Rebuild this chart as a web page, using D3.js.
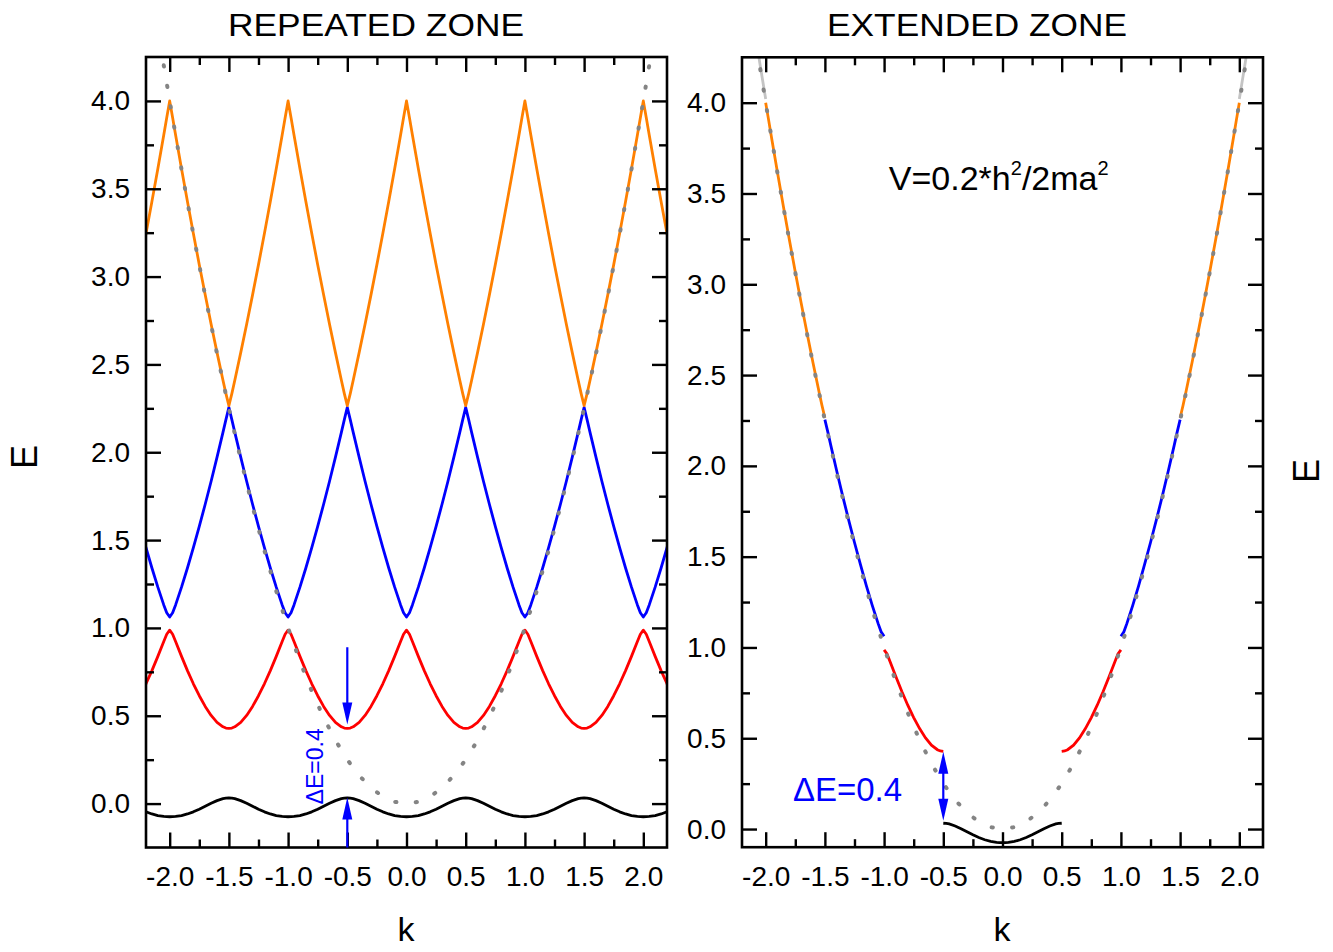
<!DOCTYPE html>
<html><head><meta charset="utf-8">
<script src="https://cdn.jsdelivr.net/npm/d3@7"></script>
<style>body{margin:0;background:#fff} text{font-family:"Liberation Sans",Arial,Helvetica,sans-serif}</style>
</head><body><svg id="c" width="1333" height="952" style="background:#fff"></svg>
<script>
// ---- data ----
// reduced wave vector k (units of 2π/a) for half a Brillouin zone
const kHalf = [0, 0.025, 0.05, 0.1, 0.15, 0.2, 0.25, 0.3, 0.35, 0.4, 0.45, 0.475, 0.5];
// band energies at kHalf (units of h^2/2ma^2)
const band1 = [-0.075, -0.0745, -0.073, -0.068, -0.059, -0.047, -0.032, -0.015, 0.002, 0.017, 0.028, 0.031, 0.032];
const band2 = [0.987, 0.964, 0.923, 0.838, 0.757, 0.682, 0.614, 0.553, 0.502, 0.462, 0.437, 0.430, 0.428];
const band3 = [1.062, 1.086, 1.131, 1.232, 1.341, 1.457, 1.578, 1.704, 1.835, 1.972, 2.113, 2.186, 2.255];
const band4 = [4.000, 3.904, 3.806, 3.614, 3.427, 3.245, 3.068, 2.896, 2.729, 2.567, 2.410, 2.334, 2.265];
// band 5 just beyond |k| = 2 (light grey in extended zone)
const k5 = [2.0, 2.05, 2.1];
const band5 = [4.02, 4.22, 4.43];
// free electron parabola (dotted grey)
const kFree = [-2.1,-2.05,-2.0,-1.9,-1.8,-1.7,-1.6,-1.5,-1.4,-1.3,-1.2,-1.1,-1.0,-0.9,-0.8,-0.7,-0.6,-0.5,-0.4,-0.3,-0.2,-0.1,0,
               0.1,0.2,0.3,0.4,0.5,0.6,0.7,0.8,0.9,1.0,1.1,1.2,1.3,1.4,1.5,1.6,1.7,1.8,1.9,2.0,2.05,2.1];
const eFree = [4.41,4.2025,4.0,3.61,3.24,2.89,2.56,2.25,1.96,1.69,1.44,1.21,1.0,0.81,0.64,0.49,0.36,0.25,0.16,0.09,0.04,0.01,0,
               0.01,0.04,0.09,0.16,0.25,0.36,0.49,0.64,0.81,1.0,1.21,1.44,1.69,1.96,2.25,2.56,2.89,3.24,3.61,4.0,4.2025,4.41];
// axes ticks
const xMajor = [-2.0,-1.5,-1.0,-0.5,0.0,0.5,1.0,1.5,2.0];
const xMinor = [-1.75,-1.25,-0.75,-0.25,0.25,0.75,1.25,1.75];
const yMajor = [0.0,0.5,1.0,1.5,2.0,2.5,3.0,3.5,4.0];
const yMinor = [0.25,0.75,1.25,1.75,2.25,2.75,3.25,3.75];
const bandColors = ["#000000","#ff0000","#0000ff","#ff8000"];
const titles = ["REPEATED ZONE","EXTENDED ZONE"];
const gapLabel = "\u0394E=0.4";
// annotation positions (data units)
const gapArrowK = -0.5;
const leftArrowDown = [0.89, 0.45];
const leftArrowUp = [-0.25, 0.034];
const rightArrow = [0.046, 0.426];

const svg = d3.select("#c");
const fmt = v => v.toFixed(1);
const bands = [band1, band2, band3, band4];

const panels = [
  {x0:146, x1:667, y0:57, y1:847.5, yd:[-0.25,4.25], id:"L"},
  {x0:742, x1:1263, y0:57.3, y1:847.2, yd:[-0.1,4.25], id:"R"}
];
panels.forEach(p => {
  p.x = d3.scaleLinear().domain([-2.2,2.2]).range([p.x0,p.x1]);
  p.y = d3.scaleLinear().domain(p.yd).range([p.y1,p.y0]);
  p.line = d3.line().x(d=>p.x(d[0])).y(d=>p.y(d[1]));
  svg.append("clipPath").attr("id","clip"+p.id).append("rect")
    .attr("x",p.x0).attr("y",p.y0).attr("width",p.x1-p.x0).attr("height",p.y1-p.y0);
  p.g = svg.append("g").attr("clip-path","url(#clip"+p.id+")");
});

function period(band){
  const pts=[];
  for(let i=kHalf.length-1;i>=0;i--) pts.push([-kHalf[i], band[i]]);
  for(let i=1;i<kHalf.length;i++) pts.push([kHalf[i], band[i]]);
  return pts;
}

// ---- left: repeated zone ----
const L = panels[0];
bands.forEach((b,bi) => {
  const per = period(b);
  let pts = [];
  for(let n=-3;n<=3;n++) per.forEach((d,i)=>{ if(!(i===0 && pts.length)) pts.push([d[0]+n,d[1]]); });
  L.g.append("path").attr("d",L.line(pts)).attr("fill","none")
    .attr("stroke",bandColors[bi]).attr("stroke-width",2.8).attr("stroke-linejoin","round");
});
const freeL = kFree.map((k,i)=>[k,eFree[i]]).filter(d=>Math.abs(d[0])<=2.05);
L.g.append("path").attr("d",L.line(freeL)).attr("fill","none").attr("stroke","#848484")
  .attr("stroke-width",4).attr("stroke-linecap","round").attr("stroke-dasharray","1.2 19.5");

// ---- right: extended zone ----
const R = panels[1];
function seg(b, f){ return kHalf.map((k,i)=>[f(k), b[i]]); }
const extSegs = [
  [0, period(band1)],
  [1, seg(band2,k=>1-k)], [1, seg(band2,k=>-(1-k))],
  [2, seg(band3,k=>1+k)], [2, seg(band3,k=>-(1+k))],
  [3, seg(band4,k=>2-k)], [3, seg(band4,k=>-(2-k))]
];
extSegs.forEach(([ci,pts]) => {
  R.g.append("path").attr("d",R.line(pts)).attr("fill","none")
    .attr("stroke",bandColors[ci]).attr("stroke-width",2.8);
});
[1,-1].forEach(s => {
  R.g.append("path").attr("d",R.line(k5.map((k,i)=>[s*k,band5[i]]))).attr("fill","none")
    .attr("stroke","#c4c4c4").attr("stroke-width",2.8);
});
const freeR = kFree.map((k,i)=>[k,eFree[i]]);
R.g.append("path").attr("d",R.line(freeR)).attr("fill","none").attr("stroke","#848484")
  .attr("stroke-width",4).attr("stroke-linecap","round").attr("stroke-dasharray","1.2 19.5");

// ---- axes / frames ----
panels.forEach(p => {
  const H = p.y1-p.y0, W = p.x1-p.x0;
  const mk = (axis, tv, size, labels) => axis.tickValues(tv).tickSize(-size).tickSizeOuter(0)
      .tickFormat(labels?fmt:"");
  const addAxis = (axis, tx, ty, labels, pad) => {
    const g = svg.append("g").attr("transform",`translate(${tx},${ty})`).call(axis.tickPadding(pad||0));
    g.select(".domain").remove();
    g.selectAll(".tick line").attr("stroke","#000").attr("stroke-width",2.4);
    g.selectAll("text").attr("font-size",28).attr("fill","#000").attr("font-family",'"Liberation Sans",Arial,sans-serif');
    return g;
  };
  addAxis(mk(d3.axisBottom(p.x), xMajor, 15, true), 0, p.y1, true, 19);
  addAxis(mk(d3.axisBottom(p.x), xMinor, 8, false), 0, p.y1);
  addAxis(mk(d3.axisTop(p.x), xMajor, 15, false), 0, p.y0);
  addAxis(mk(d3.axisTop(p.x), xMinor, 8, false), 0, p.y0);
  addAxis(mk(d3.axisLeft(p.y), yMajor, 15, true), p.x0, 0, true, 16);
  addAxis(mk(d3.axisLeft(p.y), yMinor, 8, false), p.x0, 0);
  addAxis(mk(d3.axisRight(p.y), yMajor, 15, false), p.x1, 0);
  addAxis(mk(d3.axisRight(p.y), yMinor, 8, false), p.x1, 0);
  svg.append("rect").attr("x",p.x0).attr("y",p.y0).attr("width",W).attr("height",H)
    .attr("fill","none").attr("stroke","#000").attr("stroke-width",2.6);
});

// ---- arrows ----
function arrowHead(p, k, eTip, dir){ // dir: +1 pointing up, -1 pointing down
  const x = p.x(k), y = p.y(eTip);
  const len = 22, hw = 5;
  svg.append("path").attr("d",`M${x},${y}L${x-hw},${y+dir*len}L${x+hw},${y+dir*len}Z`).attr("fill","#0000ff");
}
function shaft(p, k, e0, e1){
  svg.append("line").attr("x1",p.x(k)).attr("x2",p.x(k)).attr("y1",p.y(e0)).attr("y2",p.y(e1))
    .attr("stroke","#0000ff").attr("stroke-width",2.2);
}
shaft(L, gapArrowK, leftArrowDown[0], leftArrowDown[1]+0.05);
arrowHead(L, gapArrowK, leftArrowDown[1], -1);
shaft(L, gapArrowK, leftArrowUp[0], leftArrowUp[1]-0.05);
arrowHead(L, gapArrowK, leftArrowUp[1], 1);
shaft(R, gapArrowK, rightArrow[0]+0.05, rightArrow[1]-0.05);
arrowHead(R, gapArrowK, rightArrow[0], -1);
arrowHead(R, gapArrowK, rightArrow[1], 1);

// ---- texts ----
svg.append("text").attr("transform",`translate(${L.x(-0.707)},${L.y(0.212)}) rotate(-90)`)
  .attr("text-anchor","middle").attr("font-size",23).attr("fill","#0000ff").text(gapLabel);
svg.append("text").attr("x",R.x(-1.77)).attr("y",R.y(0.156)).attr("font-size",33)
  .attr("fill","#0000ff").text(gapLabel);
const vt = svg.append("text").attr("x",R.x(-0.96)).attr("y",R.y(3.52)).attr("font-size",34).attr("fill","#000");
vt.append("tspan").text("V=0.2*h");
vt.append("tspan").attr("font-size",20).attr("dy",-15).text("2");
vt.append("tspan").attr("dy",15).text("/2ma");
vt.append("tspan").attr("font-size",20).attr("dy",-15).text("2");

svg.append("text").attr("x",228).attr("y",36).attr("font-size",32).attr("textLength",296)
  .attr("lengthAdjust","spacingAndGlyphs").text(titles[0]);
svg.append("text").attr("x",827).attr("y",36).attr("font-size",32).attr("textLength",300)
  .attr("lengthAdjust","spacingAndGlyphs").text(titles[1]);
// axis titles
svg.append("text").attr("x",406).attr("y",941).attr("text-anchor","middle").attr("font-size",34).text("k");
svg.append("text").attr("x",1002).attr("y",941).attr("text-anchor","middle").attr("font-size",34).text("k");
svg.append("text").attr("transform","translate(37,457) rotate(-90)").attr("text-anchor","middle").attr("font-size",36).text("E");
svg.append("text").attr("transform","translate(1319,471) rotate(-90)").attr("text-anchor","middle").attr("font-size",36).text("E");
</script></body></html>
